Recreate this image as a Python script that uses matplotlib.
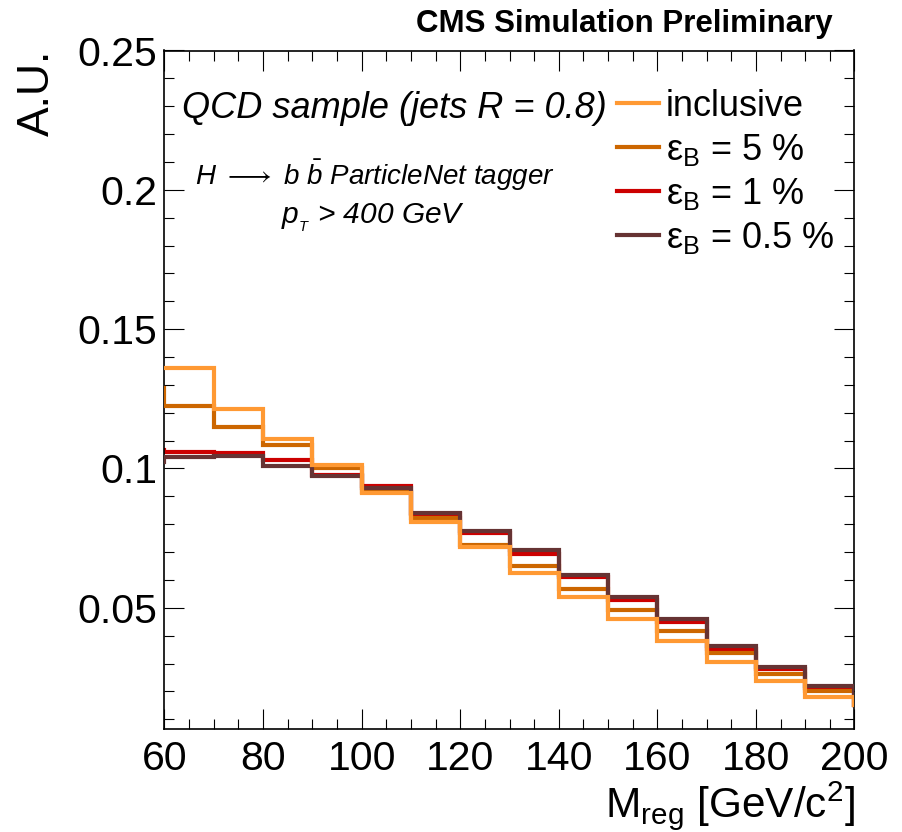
import numpy as np
import matplotlib
matplotlib.use("Agg")
import matplotlib.pyplot as plt
from matplotlib.ticker import MultipleLocator
from matplotlib.lines import Line2D

plt.rcParams['font.family'] = ['Liberation Sans', 'DejaVu Sans']
plt.rcParams['mathtext.fontset'] = 'custom'
plt.rcParams['mathtext.rm'] = 'Liberation Sans'
plt.rcParams['mathtext.it'] = 'Liberation Sans:italic'
plt.rcParams['mathtext.bf'] = 'Liberation Sans:bold'

# bin edges (first bin = underflow 50-60, last = overflow 200-210, only edges visible)
bin_edges = [50, 60, 70, 80, 90, 100, 110, 120, 130, 140, 150, 160, 170, 180, 190, 200, 210]

inclusive = [0.1362, 0.1362, 0.1215, 0.1104, 0.1011, 0.0912, 0.0808, 0.0717, 0.0625,
             0.0539, 0.0459, 0.0380, 0.0305, 0.0237, 0.0180, 0.0151]
eff_5 = [0.1289, 0.1225, 0.1149, 0.1086, 0.1000, 0.0915, 0.0821, 0.0727, 0.0651,
         0.0566, 0.0492, 0.0417, 0.0336, 0.0264, 0.0202, 0.0150]
eff_1 = [0.1068, 0.1060, 0.1056, 0.1032, 0.0975, 0.0936, 0.0838, 0.0767, 0.0692,
         0.0609, 0.0527, 0.0450, 0.0353, 0.0279, 0.0211, 0.0150]
eff_05 = [0.1024, 0.1042, 0.1044, 0.1009, 0.0973, 0.0929, 0.0841, 0.0776, 0.0707,
          0.0617, 0.0537, 0.0459, 0.0362, 0.0288, 0.0220, 0.0150]

labels = ["inclusive", r"ε$_\mathrm{B}$ = 5 %", r"ε$_\mathrm{B}$ = 1 %", r"ε$_\mathrm{B}$ = 0.5 %"]
colors = ["#FF9933", "#CC6600", "#CC0000", "#663333"]

W, H = 903, 832
fig = plt.figure(figsize=(W / 100, H / 100), dpi=100)
ax = fig.add_axes([164.5 / W, (H - 729) / H, (854.5 - 164.5) / W, (729 - 50.5) / H])

series = [inclusive, eff_5, eff_1, eff_05]
zorders = [5, 3, 2, 4]
for vals, c, lab, z in zip(series, colors, labels, zorders):
    ax.stairs(vals, bin_edges, color=c, lw=3.0, label=lab, zorder=z, baseline=None)

ax.set_xlim(60, 200)
ax.set_ylim(0.0065, 0.25)
ax.xaxis.set_major_locator(MultipleLocator(20))
ax.xaxis.set_minor_locator(MultipleLocator(5))
ax.yaxis.set_minor_locator(MultipleLocator(0.01))
ax.set_yticks([0.05, 0.1, 0.15, 0.2, 0.25])
ax.set_yticklabels(["0.05", "0.1", "0.15", "0.2", "0.25"])
ax.tick_params(which='both', direction='in', top=True, right=True, width=0.8, labelsize=29.5)
ax.tick_params(which='major', length=14.4)
ax.tick_params(which='minor', length=7.2)
ax.tick_params(axis='x', pad=8)
ax.tick_params(axis='y', pad=5)
for s in ax.spines.values():
    s.set_linewidth(1.2)

leg_handles = [Line2D([], [], color=c, lw=3.0) for c in colors]
leg = ax.legend(leg_handles, labels, loc='upper left',
                bbox_to_anchor=(617 / W, 1 - 89 / H), bbox_transform=fig.transFigure,
                frameon=False, fontsize=26, handlelength=1.15, handletextpad=0.2,
                labelspacing=0.22, borderpad=0, borderaxespad=0)

fig.text(833 / W, 1 - 32 / H, "CMS Simulation Preliminary", ha='right', va='baseline',
         fontsize=22.5, fontweight='bold')
fig.text(37 / W, 1 - 50 / H, "A.U.", rotation=90, ha='center', va='top', fontsize=32)
fig.text(855 / W, 1 - 817 / H, r"M$_\mathrm{reg}$ [GeV/c$^\mathrm{2}$]", ha='right',
         va='baseline', fontsize=30.5)

fig.text(182 / W, 1 - 108 / H, "QCD sample (jets R = 0.8)", ha='left', va='center',
         fontsize=26, style='italic')
fig.text(375 / W, 1 - 175 / H, r"H $\longrightarrow$ b $\mathit{\bar{b}}$ ParticleNet tagger",
         ha='center', va='center', fontsize=20, style='italic')
fig.text(373 / W, 1 - 218 / H, r"$\mathit{p_{_T}}$ > 400 GeV", ha='center', va='center',
         fontsize=21.5, style='italic')

fig.savefig("out.png", dpi=100)
